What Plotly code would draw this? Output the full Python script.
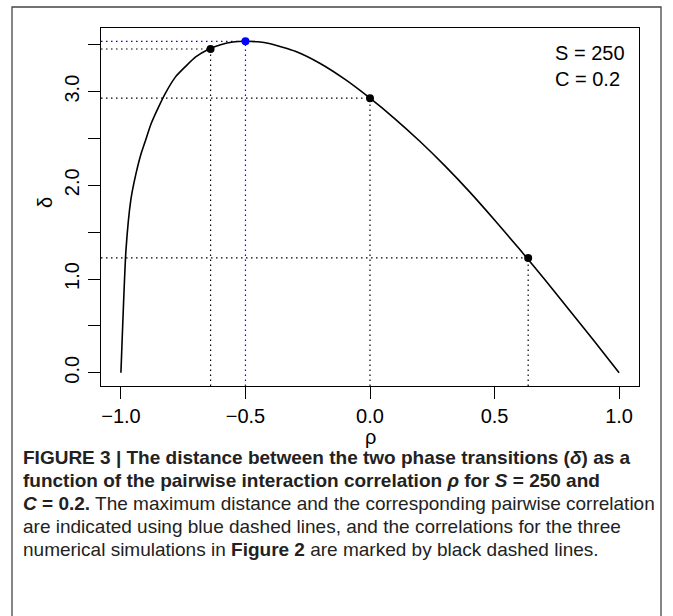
import plotly.graph_objects as go

# ---- data ----
rho = [-1.0, -0.98, -0.96, -0.94, -0.92, -0.90, -0.88, -0.85, -0.82, -0.78, -0.74,
       -0.70, -0.65, -0.60, -0.55, -0.50, -0.45, -0.40, -0.30, -0.20, -0.10,
       0.0, 0.10, 0.20, 0.30, 0.40, 0.50, 0.60, 0.70, 0.80, 0.90, 1.0]
delta = [0.0, 1.30, 1.85, 2.12, 2.33, 2.49, 2.65, 2.83, 2.99, 3.16, 3.27,
         3.37, 3.45, 3.50, 3.53, 3.537, 3.532, 3.51, 3.43, 3.30, 3.13,
         2.93, 2.71, 2.47, 2.21, 1.93, 1.63, 1.32, 1.00, 0.67, 0.34, 0.0]

sim_rho = [-0.64, 0.0, 0.635]
sim_delta = [3.455, 2.93, 1.225]
max_rho = [-0.5]
max_delta = [3.537]

x_ticks = [-1.0, -0.5, 0.0, 0.5, 1.0]
y_ticks = [0.0, 1.0, 2.0, 3.0]
x_range = [-1.08, 1.08]
y_range = [-0.1415, 3.679]

caption_lines = [
    "<b>FIGURE 3 | The distance between the two phase transitions (<i>δ</i>) as a</b>",
    "<b>function of the pairwise interaction correlation <i>ρ</i> for <i>S</i> = 250 and</b>",
    "<b><i>C</i> = 0.2.</b> The maximum distance and the corresponding pairwise correlation",
    "are indicated using blue dashed lines, and the correlations for the three",
    "numerical simulations in <b>Figure 2</b> are marked by black dashed lines.",
]

W, H = 673, 616
L, R, T, B = 101, 639, 28, 386  # plot box in pixels

def px_x(p):
    return (p - L) / (R - L)

def px_y(p):
    return (B - p) / (B - T)

FONT = "Liberation Sans, Arial, sans-serif"
DOT = "1.5px,3.5px"

fig = go.Figure()

# guide lines (black)
for r, d in zip(sim_rho, sim_delta):
    fig.add_trace(go.Scatter(x=[x_range[0], r], y=[d, d], mode="lines",
                             line=dict(color="black", width=1.2, dash=DOT),
                             hoverinfo="skip", showlegend=False))
    fig.add_trace(go.Scatter(x=[r, r], y=[y_range[0], d], mode="lines",
                             line=dict(color="black", width=1.2, dash=DOT),
                             hoverinfo="skip", showlegend=False))
# guide lines (blue)
for r, d in zip(max_rho, max_delta):
    fig.add_trace(go.Scatter(x=[x_range[0], r], y=[d, d], mode="lines",
                             line=dict(color="#0000FF", width=1.2, dash=DOT),
                             hoverinfo="skip", showlegend=False))
    fig.add_trace(go.Scatter(x=[r, r], y=[y_range[0], d], mode="lines",
                             line=dict(color="#0000FF", width=1.2, dash=DOT),
                             hoverinfo="skip", showlegend=False))

# curve
fig.add_trace(go.Scatter(x=rho, y=delta, mode="lines",
                         line=dict(color="black", width=1.6, shape="spline", smoothing=0.5),
                         showlegend=False))
# points
fig.add_trace(go.Scatter(x=sim_rho, y=sim_delta, mode="markers",
                         marker=dict(color="black", size=8), showlegend=False))
fig.add_trace(go.Scatter(x=max_rho, y=max_delta, mode="markers",
                         marker=dict(color="#0000FF", size=8), showlegend=False))

axis_common = dict(showline=True, linecolor="black", linewidth=1.2, mirror=True,
                   ticks="outside", ticklen=12, tickwidth=1.2, tickcolor="black",
                   showgrid=False, zeroline=False,
                   tickfont=dict(family=FONT, size=20, color="black"))

fig.update_xaxes(range=x_range, tickvals=x_ticks, tickformat=".1f", **axis_common)
fig.update_yaxes(range=y_range, tickvals=y_ticks, tickformat=".1f", tickangle=-90,
                 ticklabelstandoff=1,
                 minor=dict(tickvals=[0.5, 1.5, 2.5, 3.5], ticklen=12, tickwidth=1.2,
                            tickcolor="black", ticks="outside"),
                 **axis_common)

annotations = [
    dict(text="ρ", x=0.5, y=px_y(437), xref="paper", yref="paper",
         showarrow=False, font=dict(family=FONT, size=20, color="black"),
         xanchor="center", yanchor="middle"),
    dict(text="δ", x=px_x(45), y=px_y(203), xref="paper", yref="paper",
         showarrow=False, textangle=-90, font=dict(family=FONT, size=20, color="black"),
         xanchor="center", yanchor="middle"),
    dict(text="S = 250<br>C = 0.2", x=px_x(627), y=px_y(40), xref="paper", yref="paper",
         showarrow=False, align="left", font=dict(family=FONT, size=20, color="black"),
         xanchor="right", yanchor="top"),
]
for i, line in enumerate(caption_lines):
    annotations.append(dict(text=line, x=px_x(21), y=px_y(457 + 23 * i),
                            xref="paper", yref="paper", showarrow=False,
                            xanchor="left", yanchor="middle", align="left",
                            font=dict(family=FONT, size=19, color="#222222")))

fig.update_layout(
    width=W, height=H,
    margin=dict(l=L, r=W - R, t=T, b=H - B),
    paper_bgcolor="white", plot_bgcolor="white",
    annotations=annotations,
    shapes=[dict(type="rect", xref="paper", yref="paper",
                 x0=px_x(12), x1=px_x(661), y0=px_y(640), y1=px_y(7),
                 line=dict(color="#444444", width=1.3))],
)

fig.write_html("out.html", config={"displayModeBar": False},
               post_script="document.body.style.margin='0';document.body.style.overflow='hidden';")
